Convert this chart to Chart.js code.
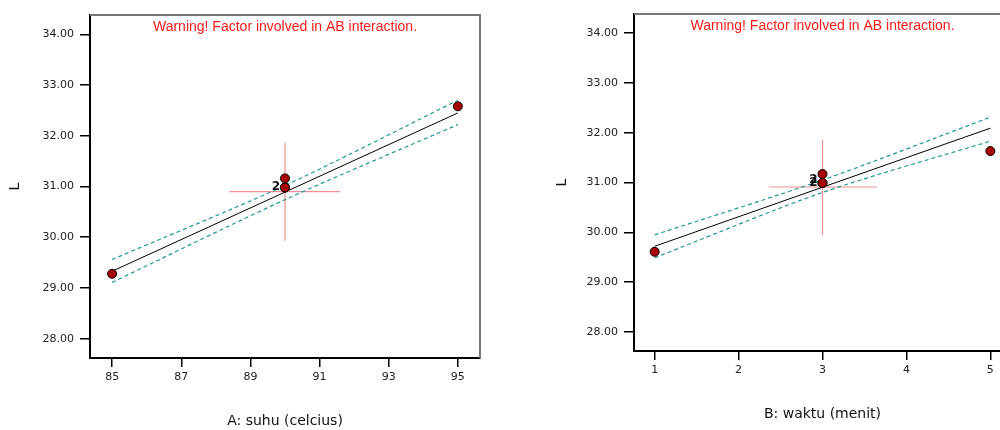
<!DOCTYPE html>
<html>
<head>
<meta charset="utf-8">
<script src="https://cdn.jsdelivr.net/npm/chart.js@4"></script>
<style>
  html, body { margin: 0; padding: 0; background: #fff; overflow: hidden; }
  #wrap { position: relative; width: 1000px; height: 430px; overflow: hidden; }
  canvas { position: absolute; top: 0; }
</style>
</head>
<body>
<div id="wrap">
  <canvas id="chart-a" width="500" height="430" style="left:0px"></canvas>
  <canvas id="chart-b" width="530" height="430" style="left:500px"></canvas>
</div>
<script>
const warningText = 'Warning! Factor involved in AB interaction.'
const yTitle = 'L'
const yTicks = [28, 29, 30, 31, 32, 33, 34]

// A: suhu
const suhuTitle = 'A: suhu (celcius)'
const suhuTicks = [85, 87, 89, 91, 93, 95]
const suhuPointsX = [85, 90, 90, 90, 95]
const suhuPointsY = [29.28, 31.16, 30.98, 30.98, 32.58]
const suhuFitX = [85, 95]
const suhuFitY = [29.33, 32.45]
const suhuBandX = [85, 90, 95]
const suhuUpper = [29.56, 31.02, 32.70]
const suhuLower = [29.11, 30.74, 32.22]
const suhuCrossH = [[88.40, 30.90], [91.60, 30.90]]
const suhuCrossV = [[90, 29.93], [90, 31.86]]
const suhuCounts = [{x: 90, y: 30.98, text: '2'}]

// B: waktu
const waktuTitle = 'B: waktu (menit)'
const waktuTicks = [1, 2, 3, 4, 5]
const waktuPointsX = [1, 3, 3, 3, 5]
const waktuPointsY = [29.61, 31.17, 30.99, 30.99, 31.63]
const waktuFitX = [1, 5]
const waktuFitY = [29.72, 32.09]
const waktuBandX = [1, 3, 5]
const waktuUpper = [29.95, 31.05, 32.31]
const waktuLower = [29.49, 30.80, 31.83]
const waktuCrossH = [[2.36, 30.91], [3.65, 30.91]]
const waktuCrossV = [[3, 29.94], [3, 31.86]]
const waktuCounts = [{x: 3, y: 31.03, text: '2'}, {x: 3, y: 30.98, text: '2'}]

const zip = (xs, ys) => xs.map((x, i) => ({x: x, y: ys[i]}))
const pairs = arr => arr.map(p => ({x: p[0], y: p[1]}))

// gray top + right frame, warning text, replicate counts
const extras = {
    id: 'extras',
    afterDraw(chart, args, opts) {
        const {ctx, chartArea: a, scales} = chart
        ctx.save()
        ctx.strokeStyle = '#777'
        ctx.lineWidth = 2
        ctx.beginPath()
        ctx.moveTo(a.left, a.top)
        ctx.lineTo(a.right, a.top)
        ctx.lineTo(a.right, a.bottom)
        ctx.stroke()

        ctx.fillStyle = '#ff1a1a'
        ctx.font = '14px "Liberation Sans", Arial, sans-serif'
        ctx.textAlign = 'center'
        ctx.textBaseline = 'middle'
        ctx.fillText(warningText, (a.left + a.right) / 2, a.top + 12)

        ctx.fillStyle = '#111'
        ctx.font = 'bold 12px "DejaVu Sans", sans-serif'
        ctx.textAlign = 'right'
        opts.counts.forEach(c => {
            const px = scales.x.getPixelForValue(c.x)
            const py = scales.y.getPixelForValue(c.y)
            ctx.fillText(c.text, px - 5, py - 1)
        })
        ctx.restore()
    }
}

function makeChart(id, cfg) {
    const tickFont = {family: '"DejaVu Sans", sans-serif', size: 11}
    const titleFont = {family: '"DejaVu Sans", sans-serif', size: 14}
    return new Chart(document.getElementById(id), {
        type: 'scatter',
        data: {
            datasets: [
                {
                    data: zip(cfg.px, cfg.py),
                    backgroundColor: '#a80000',
                    borderColor: '#000',
                    borderWidth: 1,
                    pointRadius: 4.5,
                    order: 0
                },
                {
                    data: zip(cfg.fitX, cfg.fitY),
                    showLine: true, borderColor: '#000', borderWidth: 1,
                    pointRadius: 0, order: 1
                },
                {
                    data: zip(cfg.bandX, cfg.upper),
                    showLine: true, borderColor: '#1f9a9a', borderWidth: 1.2,
                    borderDash: [4, 3], pointRadius: 0, tension: 0.3, order: 2
                },
                {
                    data: zip(cfg.bandX, cfg.lower),
                    showLine: true, borderColor: '#1f9a9a', borderWidth: 1.2,
                    borderDash: [4, 3], pointRadius: 0, tension: 0.3, order: 2
                },
                {
                    data: pairs(cfg.crossH),
                    showLine: true, borderColor: '#f29090', borderWidth: 1.2,
                    pointRadius: 0, order: 3
                },
                {
                    data: pairs(cfg.crossV),
                    showLine: true, borderColor: '#f29090', borderWidth: 1.2,
                    pointRadius: 0, order: 3
                }
            ]
        },
        options: {
            responsive: false,
            animation: false,
            devicePixelRatio: 1,
            layout: {padding: {left: 0, top: cfg.top, right: cfg.right, bottom: 0}},
            plugins: {
                legend: {display: false},
                tooltip: {enabled: false},
                extras: {counts: cfg.counts}
            },
            scales: {
                x: {
                    type: 'linear',
                    min: cfg.xMin, max: cfg.xMax,
                    afterFit: s => { s.height = cfg.xHeight },
                    afterBuildTicks: s => { s.ticks = cfg.xTicks.map(v => ({value: v})) },
                    grid: {drawOnChartArea: false, drawTicks: true, tickLength: 9, color: '#000', lineWidth: 1.5},
                    border: {display: true, color: '#000', width: 2},
                    ticks: {font: tickFont, color: '#222', padding: 4, maxRotation: 0,
                            callback: v => String(v)},
                    title: {display: true, text: cfg.xTitle, font: titleFont, color: '#111',
                            padding: {top: 0, bottom: cfg.xTitlePad}}
                },
                y: {
                    type: 'linear',
                    min: 27.62, max: 34.38,
                    afterFit: s => { s.width = cfg.yWidth },
                    afterBuildTicks: s => { s.ticks = yTicks.map(v => ({value: v})) },
                    grid: {drawOnChartArea: false, drawTicks: true, tickLength: 10, color: '#000', lineWidth: 1.5},
                    border: {display: true, color: '#000', width: 2},
                    ticks: {font: tickFont, color: '#222', padding: 6,
                            callback: v => Number(v).toFixed(2)},
                    title: {display: true, text: yTitle, font: titleFont, color: '#111',
                            padding: {top: cfg.yTitlePad, bottom: 0}}
                }
            }
        },
        plugins: [extras]
    })
}

makeChart('chart-a', {
    px: suhuPointsX, py: suhuPointsY, fitX: suhuFitX, fitY: suhuFitY,
    bandX: suhuBandX, upper: suhuUpper, lower: suhuLower,
    crossH: suhuCrossH, crossV: suhuCrossV, counts: suhuCounts,
    xTicks: suhuTicks, xMin: 84.36, xMax: 95.64, xTitle: suhuTitle,
    top: 15, right: 20, xHeight: 72, yWidth: 90, xTitlePad: 0, yTitlePad: 7
})

makeChart('chart-b', {
    px: waktuPointsX, py: waktuPointsY, fitX: waktuFitX, fitY: waktuFitY,
    bandX: waktuBandX, upper: waktuUpper, lower: waktuLower,
    crossH: waktuCrossH, crossV: waktuCrossV, counts: waktuCounts,
    xTicks: waktuTicks, xMin: 0.754, xMax: 5.246, xTitle: waktuTitle,
    top: 14, right: 19, xHeight: 79, yWidth: 134, xTitlePad: 7, yTitlePad: 54
})
</script>
</body>
</html>
